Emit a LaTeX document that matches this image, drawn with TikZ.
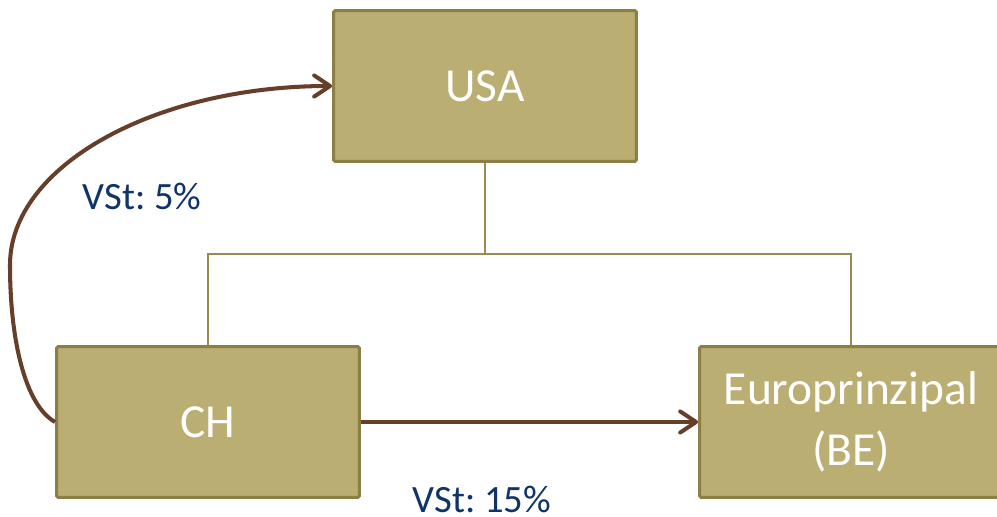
\documentclass[tikz,border=0pt]{standalone}
\usepackage{fontspec}
\setmainfont{Carlito}
\usepackage{xcolor}
\usetikzlibrary{arrows.meta,positioning}
\frenchspacing
\definecolor{boxfill}{HTML}{BAAE73}
\definecolor{boxline}{HTML}{8C7E45}
\definecolor{treeline}{HTML}{978B50}
\definecolor{flowbrown}{HTML}{663F2A}
\definecolor{labelblue}{HTML}{0F3468}
\tikzset{
  entity/.style={draw=boxline,line width=1.7pt,fill=boxfill,rounded corners=1pt,
    minimum width=6.06cm,minimum height=3.02cm,text=white,align=center,
    font=\fontsize{27}{35}\selectfont},
  tree/.style={treeline,line width=1.1pt},
  flow/.style={flowbrown,line width=2.3pt,-{Straight Barb[length=9pt,width=12pt,round]}},
  rate/.style={text=labelblue,font=\fontsize{22}{26}\selectfont}
}
\begin{document}
\begin{tikzpicture}[x=0.02cm,y=-0.02cm]
  \useasboundingbox (0,0) rectangle (997,517);
  \node[entity] (usa) at (485,86) {USA};
  \node[entity] (ch) at (208,422) {CH};
  \node[entity] (euro) at (851,422) {Europrinzipal\\(BE)};
  % holding structure
  \draw[tree] (usa.south) -- ++(0,91) coordinate (bus) -| (ch.north);
  \draw[tree] (bus) -| (euro.north);
  % flows
  \coordinate (turn) at (10,265);
  \draw[flow] (ch.west) .. controls (25,405) and (10,340) .. (turn)
    .. controls (10,166) and (155,86) .. (usa.west);
  \draw[flow] (ch.east) -- (euro.west);
  \node[rate] (rateusa) at (142,196) {VSt: 5\%};
  \node[rate] (rateeuro) at (482,499) {VSt: 15\%};
\end{tikzpicture}
\end{document}
